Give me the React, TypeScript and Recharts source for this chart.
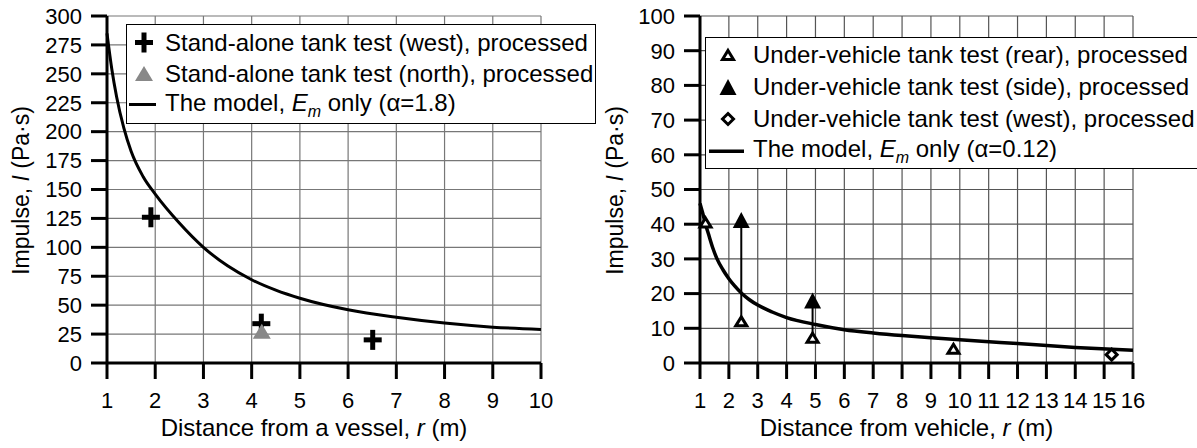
import { ComposedChart, Line, Scatter, XAxis, YAxis, CartesianGrid } from 'recharts'

// left panel: stand-alone tank
const vesselTicksX = [1, 2, 3, 4, 5, 6, 7, 8, 9, 10]
const vesselTicksY = [0, 25, 50, 75, 100, 125, 150, 175, 200, 225, 250, 275, 300]
const westTank = [
  { x: 1.91, y: 126 },
  { x: 4.2, y: 34 },
  { x: 6.51, y: 20 },
]
const northTank = [{ x: 4.21, y: 27.5 }]
const vesselModel = [
  { x: 1.0, y: 285 },
  { x: 1.1, y: 254 },
  { x: 1.2, y: 230 },
  { x: 1.35, y: 203 },
  { x: 1.5, y: 183 },
  { x: 1.75, y: 161 },
  { x: 2.0, y: 146 },
  { x: 2.5, y: 121 },
  { x: 3, y: 100 },
  { x: 3.5, y: 84 },
  { x: 4, y: 72 },
  { x: 4.5, y: 63 },
  { x: 5, y: 56 },
  { x: 6, y: 46 },
  { x: 7, y: 39.5 },
  { x: 8, y: 34.5 },
  { x: 9, y: 31 },
  { x: 10, y: 29 },
]

// right panel: under-vehicle tank
const vehicleTicksX = [1, 2, 3, 4, 5, 6, 7, 8, 9, 10, 11, 12, 13, 14, 15, 16]
const vehicleTicksY = [0, 10, 20, 30, 40, 50, 60, 70, 80, 90, 100]
const rearTank = [
  { x: 1.19, y: 40.5 },
  { x: 2.43, y: 12 },
  { x: 4.9, y: 7.3 },
  { x: 9.78, y: 4.1 },
]
const sideTank = [
  { x: 2.43, y: 41.2 },
  { x: 4.9, y: 18 },
]
const westVehicle = [{ x: 15.26, y: 2.4 }]
const vehicleModel = [
  { x: 1.0, y: 46 },
  { x: 1.1, y: 43 },
  { x: 1.19, y: 40 },
  { x: 1.3, y: 37 },
  { x: 1.45, y: 33 },
  { x: 1.59, y: 30 },
  { x: 1.8, y: 26.8 },
  { x: 2.0, y: 24.3 },
  { x: 2.2, y: 22.2 },
  { x: 2.44, y: 20.1 },
  { x: 2.7, y: 18.3 },
  { x: 3, y: 16.7 },
  { x: 3.5, y: 14.7 },
  { x: 4, y: 13.1 },
  { x: 5, y: 11.1 },
  { x: 6, y: 9.6 },
  { x: 7, y: 8.65 },
  { x: 8, y: 7.9 },
  { x: 9, y: 7.3 },
  { x: 10, y: 6.7 },
  { x: 12, y: 5.6 },
  { x: 14, y: 4.5 },
  { x: 16, y: 3.65 },
]

const font = '"Liberation Sans", Arial, sans-serif'
const tickFont = { fontSize: 22, fill: '#000', fontFamily: font }
const axisStyle = { stroke: '#000', strokeWidth: 3 }

const CrossMark = ({ cx, cy }: any) => (
  <g>
    <rect x={cx - 9} y={cy - 2.5} width={18} height={5} fill="#000" />
    <rect x={cx - 2.5} y={cy - 10} width={5} height={20} fill="#000" />
  </g>
)
const Tri = ({ cx, cy, w, h, fill, stroke, sw }: any) => (
  <path
    d={`M${cx},${cy - h / 2} L${cx + w / 2},${cy + h / 2} L${cx - w / 2},${cy + h / 2} Z`}
    fill={fill}
    stroke={stroke}
    strokeWidth={sw}
  />
)
const GrayTri = ({ cx, cy }: any) => <Tri cx={cx} cy={cy} w={18} h={15} fill="#888" />
const SolidTri = ({ cx, cy }: any) => <Tri cx={cx} cy={cy} w={17} h={16} fill="#000" />
const OpenTri = ({ cx, cy }: any) => <Tri cx={cx} cy={cy} w={11} h={9} fill="#fff" stroke="#000" sw={3} />
const Diamond = ({ cx, cy }: any) => (
  <path d={`M${cx},${cy - 5.5} L${cx + 5.5},${cy} L${cx},${cy + 5.5} L${cx - 5.5},${cy} Z`} fill="#fff" stroke="#000" strokeWidth={3} />
)
const NoMark = () => <g />

const yTitle = (x: number) => (props: any) => {
  const vb = props.viewBox
  const cy = vb.y + vb.height / 2 + 1
  return (
    <text x={x} y={cy} transform={`rotate(-90 ${x} ${cy})`} textAnchor="middle" dominantBaseline="central" fontSize={23} fontFamily={font} fill="#000">
      Impulse, <tspan fontStyle="italic">I</tspan> (Pa·s)
    </text>
  )
}
const xTitle = (label: string) => (props: any) => {
  const vb = props.viewBox
  const cx = vb.x + vb.width / 2 - 10
  return (
    <text x={cx} y={436} textAnchor="middle" fontSize={24} fontFamily={font} fill="#000">
      {label}<tspan fontStyle="italic">r</tspan> (m)
    </text>
  )
}

const legendBox: any = {
  position: 'absolute',
  background: '#fff',
  border: '1.5px solid #000',
  fontFamily: font,
  fontSize: 24,
  color: '#000',
  boxSizing: 'border-box',
  whiteSpace: 'nowrap',
}

const LegendRow = ({ h, markW, children, mark }: any) => (
  <div style={{ display: 'flex', alignItems: 'center', height: h }}>
    <svg width={markW} height={h} style={{ flex: 'none' }}>{mark}</svg>
    <span>{children}</span>
  </div>
)

const modelText = (a: string) => (
  <>
    The model, <i>E</i><sub style={{ fontStyle: 'italic', fontSize: 16 }}>m</sub> only (α={a})
  </>
)

export default function App() {
  return (
    <div style={{ position: 'absolute', left: 0, top: 0, width: 1197, height: 448, background: '#fff', overflow: 'hidden' }}>
      <div style={{ position: 'absolute', left: 0, top: 0 }}>
        <ComposedChart width={600} height={448} margin={{ top: 16, right: 59, bottom: 0, left: 0 }}>
          <CartesianGrid stroke="#777" strokeWidth={1.2} />
          <XAxis
            type="number"
            dataKey="x"
            domain={[1, 10]}
            ticks={vesselTicksX}
            interval={0}
            height={85}
            tickSize={16}
            tickMargin={13}
            tick={tickFont}
            axisLine={axisStyle}
            tickLine={axisStyle}
            label={{ content: xTitle('Distance from a vessel, ') }}
          />
          <YAxis
            type="number"
            dataKey="y"
            domain={[0, 300]}
            ticks={vesselTicksY}
            interval={0}
            width={107}
            tickSize={16}
            tickMargin={9}
            tick={tickFont}
            axisLine={axisStyle}
            tickLine={axisStyle}
            label={{ content: yTitle(21) }}
          />
          <Line data={vesselModel} dataKey="y" type="monotone" stroke="#000" strokeWidth={3} dot={false} isAnimationActive={false} />
          <Scatter data={westTank} dataKey="y" shape={CrossMark} isAnimationActive={false} />
          <Scatter data={northTank} dataKey="y" shape={GrayTri} isAnimationActive={false} />
        </ComposedChart>
        <div style={{ ...legendBox, left: 126, top: 24, width: 470, height: 100, paddingTop: 2 }}>
          <LegendRow h={31} markW={38} mark={<CrossMark cx={17} cy={15.5} />}>Stand-alone tank test (west), processed</LegendRow>
          <LegendRow h={31} markW={38} mark={<GrayTri cx={17} cy={15.5} />}>Stand-alone tank test (north), processed</LegendRow>
          <LegendRow h={31} markW={38} mark={<rect x={2} y={14} width={27} height={3} fill="#000" />}>{modelText('1.8')}</LegendRow>
        </div>
      </div>

      <div style={{ position: 'absolute', left: 600, top: 0 }}>
        <ComposedChart width={597} height={448} margin={{ top: 16, right: 64, bottom: 0, left: 0 }}>
          <CartesianGrid stroke="#555" strokeWidth={1.2} />
          <XAxis
            type="number"
            dataKey="x"
            domain={[1, 16]}
            ticks={vehicleTicksX}
            interval={0}
            height={85}
            tickSize={16}
            tickMargin={13}
            tick={tickFont}
            axisLine={axisStyle}
            tickLine={axisStyle}
            label={{ content: xTitle('Distance from vehicle, ') }}
          />
          <YAxis
            type="number"
            dataKey="y"
            domain={[0, 100]}
            ticks={vehicleTicksY}
            interval={0}
            width={100}
            tickSize={16}
            tickMargin={9}
            tick={tickFont}
            axisLine={axisStyle}
            tickLine={axisStyle}
            label={{ content: yTitle(15) }}
          />
          <Scatter data={[rearTank[1], sideTank[0]]} dataKey="y" line={{ stroke: '#000', strokeWidth: 2 }} shape={NoMark} isAnimationActive={false} />
          <Scatter data={[rearTank[2], sideTank[1]]} dataKey="y" line={{ stroke: '#000', strokeWidth: 2 }} shape={NoMark} isAnimationActive={false} />
          <Line data={vehicleModel} dataKey="y" type="monotone" stroke="#000" strokeWidth={3.5} dot={false} isAnimationActive={false} />
          <Scatter data={rearTank} dataKey="y" shape={OpenTri} isAnimationActive={false} />
          <Scatter data={sideTank} dataKey="y" shape={SolidTri} isAnimationActive={false} />
          <Scatter data={westVehicle} dataKey="y" shape={Diamond} isAnimationActive={false} />
        </ComposedChart>
        <div style={{ ...legendBox, left: 105, top: 37, width: 492, height: 132, borderRight: 'none', paddingTop: 1 }}>
          <LegendRow h={32} markW={47} mark={<OpenTri cx={22} cy={16} />}>Under-vehicle tank test (rear), processed</LegendRow>
          <LegendRow h={32} markW={47} mark={<SolidTri cx={22} cy={16} />}>Under-vehicle tank test (side), processed</LegendRow>
          <LegendRow h={32} markW={47} mark={<Diamond cx={22} cy={16} />}>Under-vehicle tank test (west), processed</LegendRow>
          <LegendRow h={32} markW={47} mark={<rect x={3} y={14.5} width={35} height={3.5} fill="#000" />}>{modelText('0.12')}</LegendRow>
        </div>
      </div>
    </div>
  )
}
